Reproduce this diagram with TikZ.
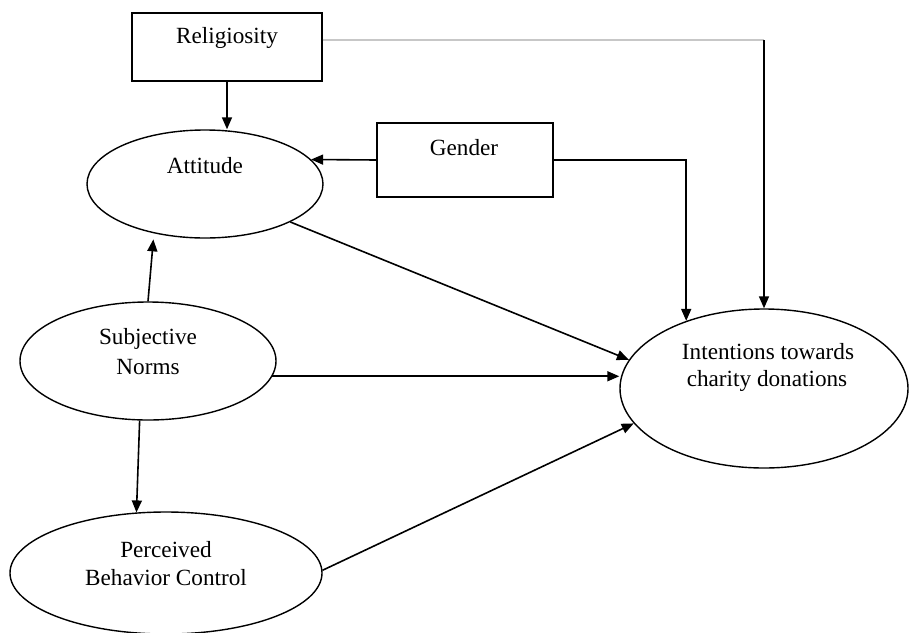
\documentclass[tikz,border=0pt]{standalone}
\usepackage{fontspec}
\setmainfont{Liberation Serif}
\usetikzlibrary{shapes.geometric,arrows.meta,calc}
\begin{document}
\begin{tikzpicture}[x=1pt,y=-1pt,
  ell/.style={draw, ellipse, line width=1.4pt, inner sep=0pt},
  bx/.style={draw, rectangle, line width=1.4pt, inner sep=0pt},
  lbl/.style={font=\fontsize{23.2}{28}\selectfont, anchor=base, inner sep=0pt},
  arr/.style={line width=1.6pt, -{Triangle[length=12pt,width=10pt]}},
  faint/.style={line width=1.6pt, draw=black!22}]
\useasboundingbox (0,0) rectangle (909,632);
% shapes
\node[bx, minimum width=190pt, minimum height=68pt] (rel) at (227,47) {};
\node[bx, minimum width=176pt, minimum height=74pt] (gen) at (465,160) {};
\node[ell, minimum width=236pt, minimum height=108pt] (att) at (205,184) {};
\node[ell, minimum width=256pt, minimum height=118pt] (sn) at (148,361) {};
\node[ell, minimum width=312pt, minimum height=122pt] (pbc) at (166,573) {};
\node[ell, minimum width=288pt, minimum height=159pt] (int) at (764,388.5) {};
% labels
\node[lbl] (relT) at (227,43) {Religiosity};
\node[lbl] (genT) at (464,155) {Gender};
\node[lbl] (attT) at (205,173) {Attitude};
\node[lbl] (snT1) at (148,344) {Subjective};
\node[lbl] (snT2) at (148,374) {Norms};
\node[lbl] (pbcT1) at (166,557) {Perceived};
\node[lbl] (pbcT2) at (166,585) {Behavior Control};
\node[lbl] (intT1) at (768,359) {Intentions towards};
\node[lbl] (intT2) at (767,386) {charity donations};
% connectors
\coordinate (c1) at ($(rel.east)+(0,-7)$);
\coordinate (c2) at (c1 -| int.north);
\draw[faint] (c1) -- (c2);
\draw[arr] (c2) -- (int.north);
\draw[arr] (rel.south) -- (rel.south |- att.north);
\draw[arr] (gen.west) -- (att.13);
\draw[arr] (gen.east) -| (int.139);
\draw[arr] (att.-24) -- (int.168);
\draw[arr] (sn.-7) -- (sn.-7 -| int.west);
\draw[arr, shorten >=6pt] (sn.north) -- (att.-136);
\draw[arr] (sn.-98) -- (pbc.116);
\draw[arr] (pbc.1) -- (int.-165);
\end{tikzpicture}
\end{document}
